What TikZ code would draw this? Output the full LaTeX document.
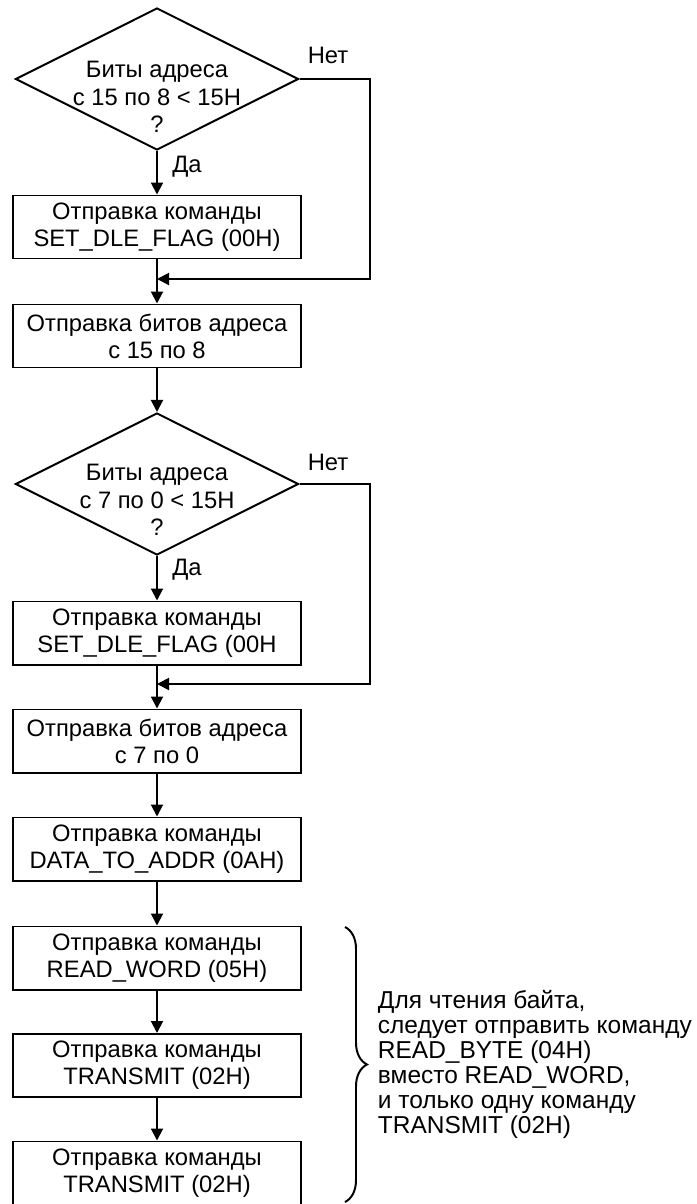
\documentclass[tikz,border=0pt]{standalone}
\usepackage{fontspec}
\setmainfont{Liberation Sans}
\usepackage{tikz}
\usetikzlibrary{arrows.meta, shapes.geometric, decorations.pathreplacing}

\begin{document}
\begin{tikzpicture}[x=0.025cm, y=-0.025cm, line width=1.4pt,
    box/.style={draw, minimum width=7.175cm, minimum height=1.575cm, inner sep=0pt,
      align=center, font=\fontsize{16.9}{19.2}\selectfont},
    decision/.style={draw, diamond, minimum width=7.075cm, minimum height=3.55cm, inner sep=0pt},
    qtext/.style={align=center, inner sep=0pt, font=\fontsize{16.9}{19.5}\selectfont},
    lbl/.style={inner sep=0pt, font=\fontsize{16.9}{19.2}\selectfont},
    flow/.style={-{Triangle[length=0.3cm, width=0.3cm]}}]
  \useasboundingbox (0,0) rectangle (697,1204);

  % upper byte of the address
  \node[decision] (cmp1) at (157,79) {};
  \node[qtext] (q1) at (157,97) {Биты адреса\\с 15 по 8 < 15H\\?};
  \node[box] (sdf1) at (157,227) {Отправка команды\\SET\_DLE\_FLAG (00H)};
  \node[box] (adr1) at (157,336) {Отправка битов адреса\\с 15 по 8};
  \coordinate (j1) at (157,279);
  \node[lbl] (no1) at (328,55) {Нет};
  \node[lbl] (yes1) at (187,167) {Да};

  % lower byte of the address
  \node[decision] (cmp2) at (157,484) {};
  \node[qtext] (q2) at (157,500) {Биты адреса\\с 7 по 0 < 15H\\?};
  \node[box] (sdf2) at (157,633) {Отправка команды\\SET\_DLE\_FLAG (00H};
  \node[box] (adr2) at (157,741) {Отправка битов адреса\\с 7 по 0};
  \coordinate (j2) at (157,684);
  \node[lbl] (no2) at (328,462) {Нет};
  \node[lbl] (yes2) at (187,570) {Да};

  % read commands
  \node[box] (dta) at (157,849) {Отправка команды\\DATA\_TO\_ADDR (0AH)};
  \node[box] (rdw) at (157,958) {Отправка команды\\READ\_WORD (05H)};
  \node[box] (tx1) at (157,1065.5) {Отправка команды\\TRANSMIT (02H)};
  \node[box] (tx2) at (157,1173) {Отправка команды\\TRANSMIT (02H)};

  \foreach \a/\b in {cmp1/sdf1, sdf1/adr1, adr1/cmp2, cmp2/sdf2, sdf2/adr2,
                     adr2/dta, dta/rdw, rdw/tx1, tx1/tx2}
    \draw[flow] (\a) -- (\b);
  \draw[flow] (cmp1.east) -- ++(70,0) |- (j1);
  \draw[flow] (cmp2.east) -- ++(70,0) |- (j2);

  \draw[decorate, decoration={brace, amplitude=0.55cm}] (345,927) -- (345,1202);
  \node[anchor=west, align=left, inner sep=0pt, font=\fontsize{17.4}{17.9}\selectfont]
    (hint) at (377,1064.5) {Для чтения байта,\\следует отправить команду\\READ\_BYTE (04H)\\вместо READ\_WORD,\\и только одну команду\\TRANSMIT (02H)};
\end{tikzpicture}
\end{document}
